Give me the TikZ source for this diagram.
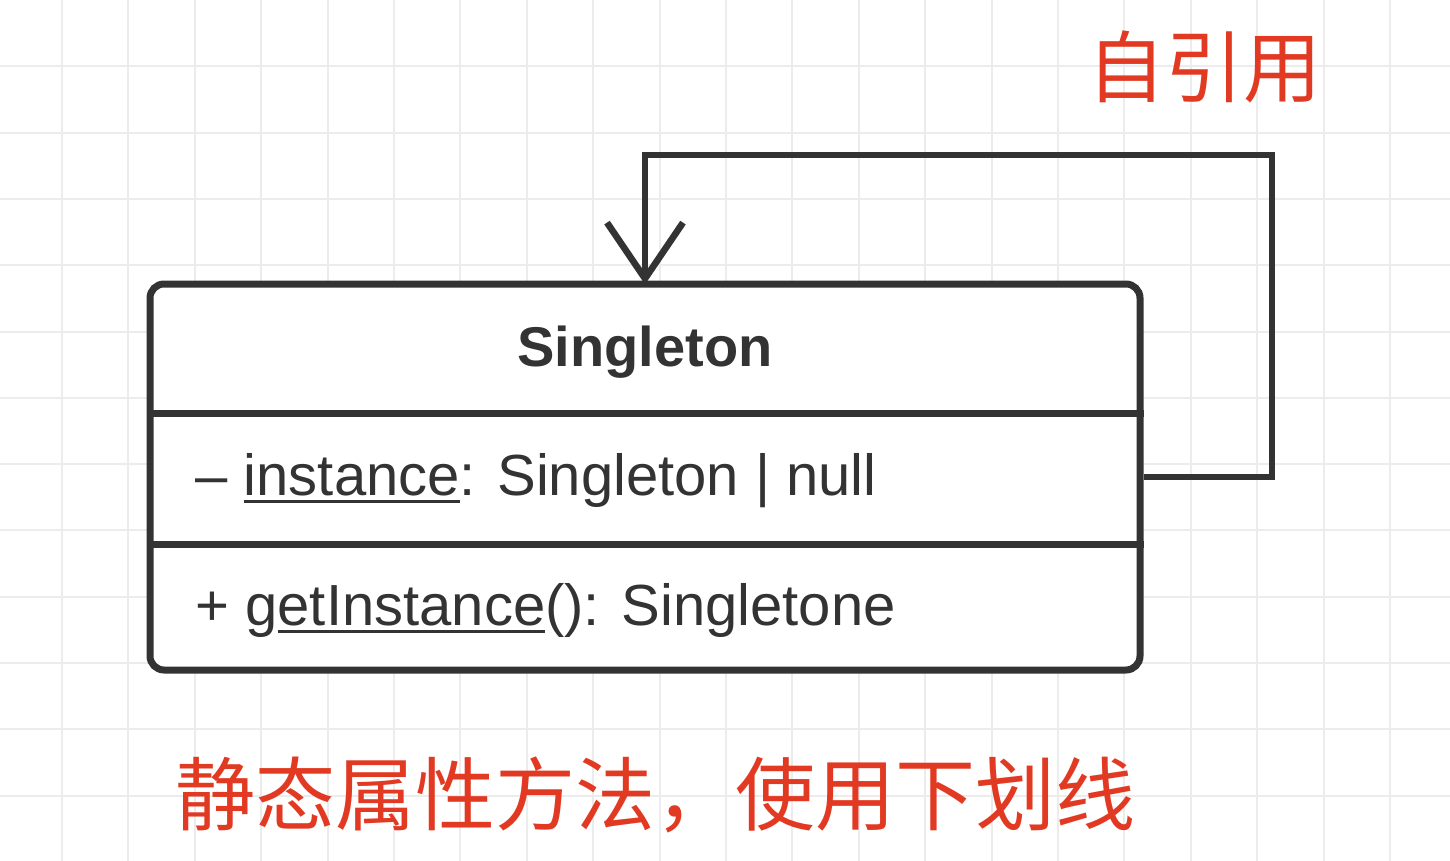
\documentclass[tikz,border=0pt]{standalone}
\usepackage{fontspec}
\setmainfont{Liberation Sans}
\newfontfamily\cjk{Noto Sans CJK SC}
\usetikzlibrary{arrows.meta}
\definecolor{ink}{HTML}{333333}
\definecolor{gridc}{HTML}{ECECEC}
\definecolor{redtxt}{HTML}{E23A22}
\newcommand\myul[1]{\setbox0\hbox{#1}\rlap{\rule[-4pt]{\wd0}{1.4pt}}\box0}
\tikzset{
  gridline/.style={draw=gridc, line width=1pt},
  classbox/.style={draw=ink, line width=3.5pt, rounded corners=7pt, fill=white,
    minimum width=495pt, minimum height=193pt, inner sep=0pt},
  divider/.style={draw=ink, line width=3.5pt},
  conn/.style={draw=ink, line width=3.3pt, -{Straight Barb[length=28pt,width=38pt]}},
  titletext/.style={text=ink, font=\fontsize{28pt}{33pt}\selectfont\bfseries, inner sep=0pt},
  rowtext/.style={text=ink, font=\fontsize{29pt}{34pt}\selectfont, inner sep=0pt},
  notetext/.style={text=redtxt, inner sep=0pt},
}
\begin{document}
\begin{tikzpicture}[x=0.5pt,y=-0.5pt]
\useasboundingbox (0,0) rectangle (1450,861);
\fill[white] (0,0) rectangle (1450,861);
% grid
\foreach \i in {0,...,21} { \draw[gridline] ({62+66.4*\i},0) -- ({62+66.4*\i},861); }
\foreach \j in {1,...,12} { \draw[gridline] (0,{66.3*\j}) -- (1450,{66.3*\j}); }
% class box
\node[classbox] (cls) at (645,477) {};
\coordinate (d1) at (0,413);
\coordinate (d2) at (0,544);
\draw[divider] (cls.west |- d1) -- (cls.east |- d1);
\draw[divider] (cls.west |- d2) -- (cls.east |- d2);
\node[titletext, anchor=base] (title) at (645,366) {Singleton};
\node[rowtext, anchor=base west] (attr) at (195,495) {– \myul{instance}: Singleton | null};
\node[rowtext, anchor=base west] (meth) at (195,625) {+ g\myul{etInstance}(): Singletone};
% self reference
\coordinate (corner) at (1272,155);
\draw[conn] (cls.east) -| (corner) -| ([yshift=-2pt]cls.north);
% notes
\node[notetext, font=\cjk\fontsize{39pt}{43pt}\selectfont] (selfref) at (1204,67) {自引用};
\node[notetext, font=\cjk\fontsize{40pt}{44pt}\selectfont] (note) at (655,795) {静态属性方法，使用下划线};
\end{tikzpicture}
\end{document}
